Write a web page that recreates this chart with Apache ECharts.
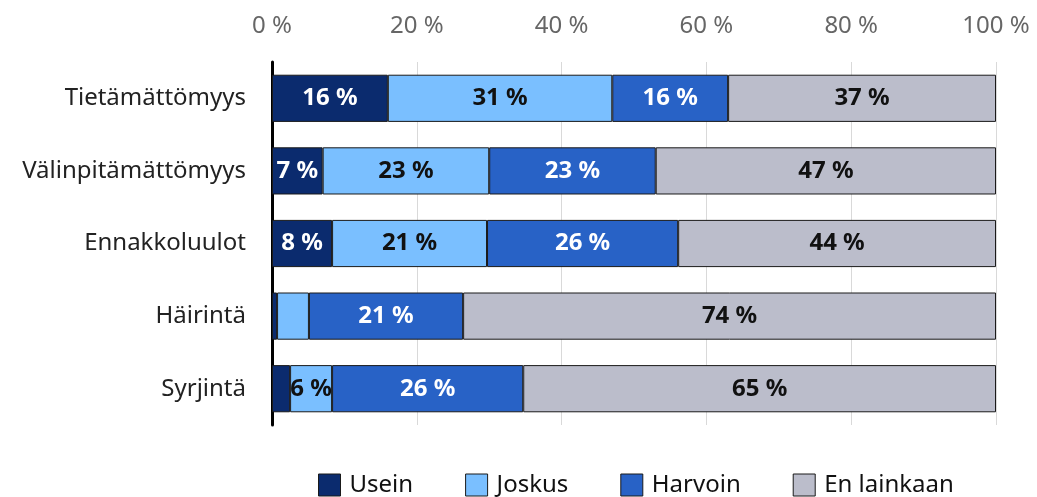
<!DOCTYPE html>
<html><head><meta charset="utf-8">
<script src="https://cdn.jsdelivr.net/npm/echarts@6/dist/echarts.min.js"></script>
<style>html,body{margin:0;padding:0;background:#fff}#c{width:1037px;height:497px}</style>
</head><body><div id="c"></div>
<script>
const categories = ['Tietämättömyys','Välinpitämättömyys','Ennakkoluulot','Häirintä','Syrjintä'];
const usein = [16, 7, 8.3, 0.7, 2.5];
const joskus = [31, 23, 21.4, 4.4, 5.8];
const harvoin = [16, 23, 26.4, 21.3, 26.4];
const enLainkaan = [37, 47, 43.9, 73.6, 65.3];
const xTicks = [0, 20, 40, 60, 80, 100];

const font = '"Noto Sans", sans-serif';
function mk(name, data, color, labelColor) {
  return {
    name, type: 'bar', stack: 'all', data, barWidth: '65%',
    itemStyle: { color, borderColor: '#1a1a1a', borderWidth: 1 },
    label: {
      show: true, position: 'inside', color: labelColor, fontSize: 24, fontWeight: 'bold', fontFamily: font,
      formatter: p => p.value >= 5 ? Math.round(p.value) + ' %' : ''
    }
  };
}
const chart = echarts.init(document.getElementById('c'));
chart.setOption({
  animation: false,
  textStyle: { fontFamily: font },
  grid: { left: 272, right: 41, top: 62, bottom: 72 },
  legend: {
    top: 468, left: 313, itemWidth: 22, itemHeight: 22, itemGap: 52,
    textStyle: { fontSize: 24, color: '#111', fontFamily: font, padding: [0, 0, 0, 4] },
    data: ['Usein','Joskus','Harvoin','En lainkaan'].map(n => ({ name: n, icon: 'rect', itemStyle: { borderColor: '#1a1a1a', borderWidth: 1 } }))
  },
  xAxis: {
    type: 'value', position: 'top', min: 0, max: 100, interval: 20,
    axisLine: { show: false }, axisTick: { show: false },
    axisLabel: { fontSize: 24, color: '#666', margin: 24, formatter: v => xTicks.includes(v) ? v + ' %' : '' },
    splitLine: { lineStyle: { color: '#d9d9d9', width: 1 } }
  },
  yAxis: {
    type: 'category', data: categories, inverse: true,
    axisLine: { lineStyle: { color: '#000', width: 3 } }, axisTick: { show: false },
    axisLabel: { fontSize: 24, color: '#222', margin: 26 }
  },
  series: [
    mk('Usein', usein, '#0b2b6e', '#fff'),
    mk('Joskus', joskus, '#7abfff', '#111'),
    mk('Harvoin', harvoin, '#2862c6', '#fff'),
    mk('En lainkaan', enLainkaan, '#bbbdcb', '#111')
  ]
});
</script></body></html>
